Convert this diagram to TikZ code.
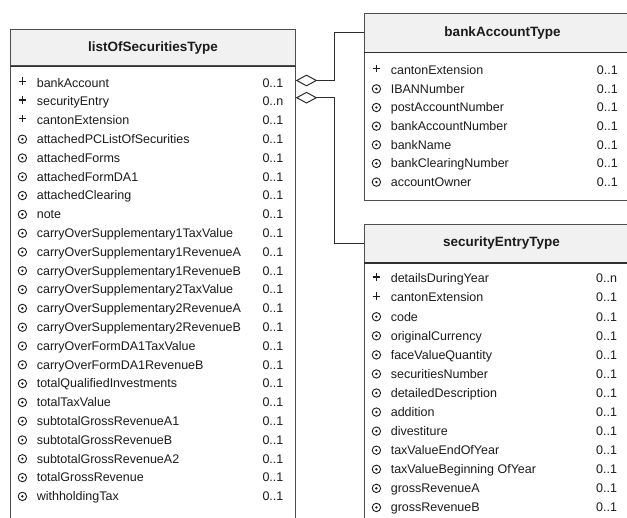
\documentclass[tikz,border=0pt]{standalone}
\usepackage{fontspec}
\setmainfont{Liberation Sans}
\usetikzlibrary{shapes.geometric}

\definecolor{boxline}{HTML}{4E4E4E}
\definecolor{sepline}{HTML}{303030}
\definecolor{hdrfill}{HTML}{F1F1F1}
\definecolor{ink}{HTML}{1C1C1C}
\definecolor{wire}{HTML}{2C2C2C}

% One row per member: marker, name and multiplicity.
% #1 name prefix, #2 left edge of the class box, #3 centre of first row,
% #4 row pitch, #5 x of the multiplicity column, #6 kind/name/multiplicity list
\newcommand{\memberrows}[6]{%
  \foreach \kind/\label/\mult [count=\i from 0] in {#6} {%
    \pgfmathsetmacro{\yy}{#3+\i*#4}
    \node[mark\kind] (#1-k\i) at (#2+12.4,\yy) {};
    \node[member, anchor=base west] (#1-n\i) at (#2+26.6,\yy+4.3) {\label};
    \node[member, anchor=base west] (#1-m\i) at (#5,\yy+4.3) {\mult};
  }%
}

\begin{document}
\begin{tikzpicture}[x=1pt,y=-1pt,
  classbody/.style={draw=boxline, line width=1pt, fill=white, inner sep=0pt,
    anchor=north west},
  classhead/.style={draw=boxline, line width=1pt, fill=hdrfill, inner sep=0pt,
    anchor=north west, text=ink, font=\fontsize{13.5}{16}\selectfont\bfseries},
  headrule/.style={draw=sepline, line width=1.5pt},
  member/.style={inner sep=0pt, text=ink, font=\fontsize{12.5}{15}\selectfont},
  markp/.style={inner sep=0pt, minimum size=7.4pt, yshift=1.6pt,
    path picture={
      \draw[ink, line width=1.1pt]
        (path picture bounding box.north) -- (path picture bounding box.south)
        (path picture bounding box.west) -- (path picture bounding box.east);}},
  markc/.style={circle, draw=ink, line width=0.9pt, minimum size=8.4pt,
    inner sep=0pt, path picture={\fill[ink] (path picture bounding box.center)
      circle (1.3pt);}},
  agg/.style={diamond, aspect=2, draw=wire, fill=white, line width=1pt,
    minimum width=20pt, minimum height=11pt, inner sep=0pt, anchor=west},
  wireline/.style={draw=wire, line width=1pt},
]
\useasboundingbox (0,0) rectangle (627,518);
\clip (0,0) rectangle (627,518);

% listOfSecuritiesType
\node[classbody, minimum width=285pt, minimum height=520pt] (losBody) at (10,29.5) {};
\node[classhead, minimum width=285pt, minimum height=36pt] (losHead) at (10,29.5) {listOfSecuritiesType};
\draw[headrule] (losHead.south west) -- (losHead.south east);
\memberrows{los}{10}{82.8}{18.8}{262.3}{%
  p/bankAccount/0..1, p/securityEntry/0..n, p/cantonExtension/0..1,
  c/attachedPCListOfSecurities/0..1, c/attachedForms/0..1,
  c/attachedFormDA1/0..1, c/attachedClearing/0..1, c/note/0..1,
  c/carryOverSupplementary1TaxValue/0..1, c/carryOverSupplementary1RevenueA/0..1,
  c/carryOverSupplementary1RevenueB/0..1, c/carryOverSupplementary2TaxValue/0..1,
  c/carryOverSupplementary2RevenueA/0..1, c/carryOverSupplementary2RevenueB/0..1,
  c/carryOverFormDA1TaxValue/0..1, c/carryOverFormDA1RevenueB/0..1,
  c/totalQualifiedInvestments/0..1, c/totalTaxValue/0..1,
  c/subtotalGrossRevenueA1/0..1, c/subtotalGrossRevenueB/0..1,
  c/subtotalGrossRevenueA2/0..1, c/totalGrossRevenue/0..1,
  c/withholdingTax/0..1}

% bankAccountType
\node[classbody, minimum width=276pt, minimum height=187.3pt] (bankBody) at (364,12.7) {};
\node[classhead, minimum width=276pt, minimum height=39pt] (bankHead) at (364,12.7) {bankAccountType};
\draw[headrule] (bankHead.south west) -- (bankHead.south east);
\memberrows{bank}{364}{70.2}{18.65}{596.7}{%
  p/cantonExtension/0..1, c/IBANNumber/0..1, c/postAccountNumber/0..1,
  c/bankAccountNumber/0..1, c/bankName/0..1, c/bankClearingNumber/0..1,
  c/accountOwner/0..1}

% securityEntryType
\node[classbody, minimum width=274pt, minimum height=320pt] (secBody) at (364,224) {};
\node[classhead, minimum width=274pt, minimum height=38pt] (secHead) at (364,224) {securityEntryType};
\draw[headrule] (secHead.south west) -- (secHead.south east);
\memberrows{sec}{364}{278.6}{19.07}{596}{%
  p/detailsDuringYear/0..n, p/cantonExtension/0..1, c/code/0..1,
  c/originalCurrency/0..1, c/faceValueQuantity/0..1, c/securitiesNumber/0..1,
  c/detailedDescription/0..1, c/addition/0..1, c/divestiture/0..1,
  c/taxValueEndOfYear/0..1, c/taxValueBeginning OfYear/0..1,
  c/grossRevenueA/0..1, c/grossRevenueB/0..1}

% aggregations
\node[agg] (aggBank) at (losBody.east |- 0,80.5) {};
\node[agg] (aggSec) at (losBody.east |- 0,97.7) {};
\draw[wireline] (aggBank.east) -- ++(17.7,0) |- (bankHead.west);
\draw[wireline] (aggSec.east) -- ++(17.7,0) |- (secHead.west);
\end{tikzpicture}
\end{document}
